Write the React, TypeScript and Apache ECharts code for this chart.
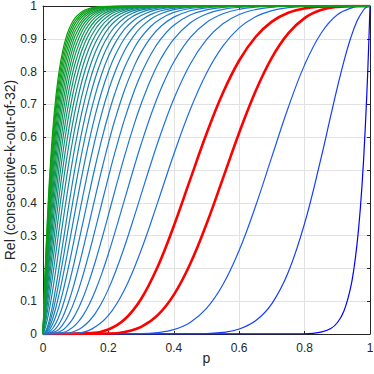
import React, { useEffect, useRef } from "react";
import * as echarts from "echarts";

// Reliability of consecutive-k-out-of-32:F systems.
// Common p grid used for k = 11..32
const pGrid = [0, 0.005, 0.01, 0.015, 0.02, 0.03, 0.04, 0.05, 0.06, 0.07, 0.08, 0.09, 0.1, 0.12, 0.14, 0.16, 0.18, 0.2, 0.22, 0.25, 0.28, 0.3, 0.33, 0.36, 0.4, 0.45, 0.5, 0.55, 0.6, 1];

const rel32 = [0, 0.1482, 0.275, 0.3835, 0.4761, 0.6227, 0.7292, 0.8063, 0.8619, 0.9019, 0.9306, 0.9511, 0.9657, 0.9833, 0.992, 0.9962, 0.9983, 0.9992, 0.9996, 0.9999, 1, 1, 1, 1, 1, 1, 1, 1, 1, 1];
const rel31 = [0, 0.1396, 0.2604, 0.3647, 0.4547, 0.5994, 0.7066, 0.7859, 0.8443, 0.8872, 0.9186, 0.9414, 0.958, 0.9787, 0.9894, 0.9948, 0.9975, 0.9988, 0.9995, 0.9998, 1, 1, 1, 1, 1, 1, 1, 1, 1, 1];
const rel30 = [0, 0.131, 0.2455, 0.3455, 0.4327, 0.5749, 0.6826, 0.7639, 0.825, 0.8708, 0.9049, 0.9303, 0.9491, 0.9732, 0.9861, 0.9929, 0.9965, 0.9983, 0.9992, 0.9997, 0.9999, 1, 1, 1, 1, 1, 1, 1, 1, 1];
const rel29 = [0, 0.1223, 0.2304, 0.3258, 0.41, 0.5494, 0.6572, 0.7402, 0.8039, 0.8525, 0.8895, 0.9176, 0.9388, 0.9666, 0.9821, 0.9906, 0.9951, 0.9975, 0.9988, 0.9996, 0.9999, 1, 1, 1, 1, 1, 1, 1, 1, 1];
const rel28 = [0, 0.1135, 0.2151, 0.3057, 0.3866, 0.5227, 0.6301, 0.7146, 0.7807, 0.8322, 0.8722, 0.903, 0.9267, 0.9587, 0.9771, 0.9876, 0.9934, 0.9965, 0.9982, 0.9994, 0.9998, 1, 1, 1, 1, 1, 1, 1, 1, 1];
const rel27 = [0, 0.1047, 0.1995, 0.2852, 0.3625, 0.4947, 0.6014, 0.6871, 0.7554, 0.8097, 0.8526, 0.8864, 0.9128, 0.9493, 0.971, 0.9837, 0.9911, 0.9952, 0.9974, 0.999, 0.9997, 0.9999, 1, 1, 1, 1, 1, 1, 1, 1];
const rel26 = [0, 0.0958, 0.1838, 0.2642, 0.3376, 0.4655, 0.571, 0.6574, 0.7278, 0.7848, 0.8307, 0.8674, 0.8966, 0.938, 0.9635, 0.9789, 0.9881, 0.9934, 0.9964, 0.9986, 0.9995, 0.9998, 1, 1, 1, 1, 1, 1, 1, 1];
const rel25 = [0, 0.0869, 0.1677, 0.2427, 0.312, 0.435, 0.5387, 0.6255, 0.6977, 0.7572, 0.806, 0.8457, 0.878, 0.9247, 0.9544, 0.9729, 0.9842, 0.9909, 0.9949, 0.9979, 0.9992, 0.9997, 0.9999, 1, 1, 1, 1, 1, 1, 1];
const rel24 = [0, 0.0779, 0.1515, 0.2207, 0.2857, 0.4031, 0.5045, 0.5912, 0.6648, 0.7266, 0.7783, 0.8211, 0.8564, 0.9088, 0.9432, 0.9653, 0.9792, 0.9877, 0.9929, 0.997, 0.9988, 0.9994, 0.9998, 1, 1, 1, 1, 1, 1, 1];
const rel23 = [0, 0.0688, 0.135, 0.1983, 0.2585, 0.3697, 0.4682, 0.5543, 0.6289, 0.6929, 0.7473, 0.7931, 0.8316, 0.89, 0.9296, 0.9558, 0.9727, 0.9835, 0.9902, 0.9957, 0.9982, 0.999, 0.9997, 0.9999, 1, 1, 1, 1, 1, 1];
const rel22 = [0, 0.0596, 0.1182, 0.1753, 0.2306, 0.3349, 0.4297, 0.5147, 0.5899, 0.6556, 0.7125, 0.7614, 0.803, 0.8679, 0.9131, 0.9439, 0.9644, 0.9779, 0.9865, 0.9938, 0.9972, 0.9984, 0.9994, 0.9997, 1, 1, 1, 1, 1, 1];
const rel21 = [0, 0.0504, 0.1012, 0.1518, 0.2018, 0.2985, 0.389, 0.4721, 0.5473, 0.6144, 0.6737, 0.7254, 0.7702, 0.8416, 0.893, 0.9291, 0.9538, 0.9705, 0.9815, 0.9911, 0.9959, 0.9976, 0.999, 0.9996, 0.9999, 1, 1, 1, 1, 1];
const rel20 = [0, 0.0411, 0.0839, 0.1278, 0.1721, 0.2604, 0.3459, 0.4264, 0.501, 0.569, 0.6302, 0.6846, 0.7325, 0.8107, 0.8687, 0.9107, 0.9403, 0.9608, 0.9747, 0.9873, 0.9939, 0.9963, 0.9984, 0.9993, 0.9998, 1, 1, 1, 1, 1];
const rel19 = [0, 0.0317, 0.0664, 0.1033, 0.1416, 0.2208, 0.3002, 0.3774, 0.4506, 0.5189, 0.5816, 0.6383, 0.6893, 0.7744, 0.8394, 0.8878, 0.923, 0.9481, 0.9656, 0.982, 0.991, 0.9944, 0.9974, 0.9988, 0.9996, 0.9999, 1, 1, 1, 1];
const rel18 = [0, 0.0223, 0.0487, 0.0782, 0.1102, 0.1793, 0.2519, 0.3247, 0.3959, 0.4637, 0.5274, 0.5861, 0.6398, 0.7316, 0.804, 0.8596, 0.9011, 0.9316, 0.9534, 0.9746, 0.9867, 0.9915, 0.9958, 0.998, 0.9993, 0.9998, 1, 1, 1, 1];
const rel17 = [0, 0.0128, 0.0306, 0.0525, 0.0779, 0.1361, 0.2007, 0.2683, 0.3364, 0.403, 0.4669, 0.527, 0.5831, 0.6813, 0.7613, 0.8245, 0.8732, 0.9099, 0.937, 0.9643, 0.9805, 0.9872, 0.9934, 0.9968, 0.9988, 0.9997, 0.9999, 1, 1, 1];
const rel16 = [0, 0.0032, 0.0123, 0.0263, 0.0446, 0.0909, 0.1466, 0.2078, 0.2717, 0.3361, 0.3995, 0.4604, 0.5182, 0.6223, 0.7099, 0.7813, 0.8379, 0.8818, 0.9152, 0.9499, 0.9714, 0.9807, 0.9897, 0.9947, 0.9979, 0.9994, 0.9999, 1, 1, 1];
const rel15 = [0, 0.0022, 0.0086, 0.0188, 0.0323, 0.0682, 0.1133, 0.1649, 0.2208, 0.279, 0.338, 0.3962, 0.453, 0.5587, 0.6513, 0.7298, 0.7941, 0.8457, 0.8862, 0.93, 0.9582, 0.971, 0.9837, 0.9912, 0.9963, 0.9989, 0.9997, 1, 1, 1];
const rel14 = [0, 0.0014, 0.0055, 0.0124, 0.0218, 0.0481, 0.0829, 0.1245, 0.1716, 0.2223, 0.2754, 0.3294, 0.3835, 0.488, 0.5837, 0.6682, 0.74, 0.7997, 0.8481, 0.9025, 0.9394, 0.9566, 0.9745, 0.9855, 0.9936, 0.9979, 0.9994, 0.9998, 1, 1];
const rel13 = [0, 0.0007, 0.0031, 0.0072, 0.0133, 0.031, 0.0562, 0.0879, 0.1255, 0.1677, 0.2135, 0.2617, 0.3113, 0.4112, 0.5072, 0.5957, 0.674, 0.7415, 0.7983, 0.8648, 0.9122, 0.9354, 0.9603, 0.9763, 0.9888, 0.996, 0.9987, 0.9996, 0.9999, 1];
const rel12 = [0, 0.0003, 0.0014, 0.0035, 0.0068, 0.0175, 0.0341, 0.0565, 0.0845, 0.1175, 0.1548, 0.1955, 0.2389, 0.3301, 0.4226, 0.5122, 0.5949, 0.6692, 0.7342, 0.8137, 0.8735, 0.904, 0.9382, 0.9614, 0.9804, 0.9923, 0.9973, 0.9992, 0.9998, 1];
const rel11 = [0, 0.0001, 0.0004, 0.0012, 0.0027, 0.0083, 0.018, 0.0321, 0.0511, 0.0747, 0.1028, 0.1346, 0.17, 0.2483, 0.3327, 0.419, 0.5026, 0.5813, 0.6531, 0.7455, 0.819, 0.8585, 0.9044, 0.9374, 0.966, 0.9854, 0.9944, 0.9981, 0.9994, 1];

// k = 1..10, each read on its own p points
const p10 = [0, 0.04, 0.06, 0.08, 0.1, 0.12, 0.14, 0.16, 0.18, 0.2, 0.22, 0.25, 0.28, 0.3, 0.33, 0.36, 0.4, 0.45, 0.5, 0.55, 0.6, 0.65, 1];
const rel10 = [0, 0.0085, 0.0277, 0.0614, 0.11, 0.1714, 0.2425, 0.3197, 0.3994, 0.4782, 0.5537, 0.6565, 0.7439, 0.7929, 0.8531, 0.8989, 0.9413, 0.9725, 0.9883, 0.9956, 0.9985, 0.9996, 1];
const p9 = [0, 0.05, 0.08, 0.1, 0.12, 0.14, 0.16, 0.18, 0.2, 0.22, 0.25, 0.28, 0.3, 0.33, 0.36, 0.4, 0.45, 0.5, 0.55, 0.6, 0.65, 0.7, 1];
const rel9 = [0, 0.0068, 0.0313, 0.0618, 0.1044, 0.1582, 0.221, 0.2903, 0.3632, 0.4371, 0.5446, 0.6429, 0.7013, 0.777, 0.8383, 0.8993, 0.9483, 0.9757, 0.9897, 0.9961, 0.9987, 0.9997, 1];
const p8 = [0, 0.06, 0.08, 0.1, 0.12, 0.14, 0.16, 0.18, 0.2, 0.22, 0.25, 0.28, 0.3, 0.33, 0.36, 0.4, 0.45, 0.5, 0.55, 0.6, 0.65, 0.7, 0.75, 1];
const rel8 = [0, 0.0043, 0.0127, 0.0285, 0.0532, 0.0877, 0.1319, 0.1848, 0.2447, 0.3097, 0.4118, 0.5136, 0.5784, 0.6677, 0.7454, 0.8291, 0.9034, 0.9498, 0.9762, 0.9899, 0.9963, 0.9988, 0.9997, 1];
const p7 = [0, 0.08, 0.1, 0.12, 0.14, 0.16, 0.18, 0.2, 0.22, 0.25, 0.28, 0.3, 0.33, 0.36, 0.4, 0.45, 0.5, 0.55, 0.6, 0.65, 0.7, 0.75, 0.8, 1];
const rel7 = [0, 0.0037, 0.0097, 0.0207, 0.0381, 0.063, 0.0959, 0.1368, 0.185, 0.2685, 0.3609, 0.4248, 0.5198, 0.6098, 0.7165, 0.8225, 0.8974, 0.9457, 0.974, 0.9889, 0.996, 0.9988, 0.9997, 1];
const p6 = [0, 0.1, 0.15, 0.2, 0.25, 0.3, 0.35, 0.4, 0.45, 0.5, 0.55, 0.6, 0.65, 0.7, 0.75, 0.8, 0.85, 1];
const rel6 = [0, 0.0021, 0.0156, 0.0565, 0.1367, 0.2555, 0.3991, 0.5479, 0.6837, 0.795, 0.8776, 0.9333, 0.9674, 0.9861, 0.995, 0.9986, 0.9997, 1];
const p5 = [0, 0.15, 0.2, 0.25, 0.3, 0.35, 0.4, 0.45, 0.5, 0.55, 0.6, 0.65, 0.7, 0.75, 0.8, 0.85, 0.9, 1];
const rel5 = [0, 0.0026, 0.0138, 0.045, 0.1069, 0.2036, 0.3294, 0.4706, 0.6104, 0.7345, 0.8338, 0.9056, 0.9524, 0.9794, 0.9928, 0.9982, 0.9997, 1];
const p4 = [0, 0.2, 0.25, 0.3, 0.35, 0.4, 0.45, 0.5, 0.55, 0.6, 0.65, 0.7, 0.75, 0.8, 0.85, 0.9, 0.95, 1];
const rel4 = [0, 0.0013, 0.0064, 0.0219, 0.0567, 0.1194, 0.2135, 0.3353, 0.4738, 0.6137, 0.7403, 0.8428, 0.9167, 0.9631, 0.9875, 0.9974, 0.9998, 1];
const p3 = [0, 0.3, 0.35, 0.4, 0.45, 0.5, 0.55, 0.6, 0.65, 0.7, 0.75, 0.8, 0.85, 0.9, 0.95, 0.97, 1];
const rel3 = [0, 0.0009, 0.004, 0.0132, 0.035, 0.0779, 0.1501, 0.2552, 0.3895, 0.5406, 0.6906, 0.8205, 0.9163, 0.9732, 0.9964, 0.9992, 1];
const p2 = [0, 0.45, 0.5, 0.55, 0.6, 0.65, 0.7, 0.75, 0.8, 0.85, 0.88, 0.9, 0.92, 0.94, 0.96, 0.98, 0.99, 1];
const rel2 = [0, 0.0003, 0.0013, 0.0049, 0.0152, 0.0402, 0.0928, 0.1882, 0.3371, 0.5348, 0.6655, 0.7511, 0.8305, 0.8994, 0.9533, 0.9879, 0.9969, 1];
const p1 = [0, 0.8, 0.85, 0.88, 0.9, 0.92, 0.94, 0.95, 0.96, 0.97, 0.98, 0.99, 0.995, 0.9975, 1];
const rel1 = [0, 0.0008, 0.0055, 0.0167, 0.0343, 0.0694, 0.1381, 0.1937, 0.2708, 0.3773, 0.5239, 0.725, 0.8518, 0.923, 1];

const highlightedK = [4, 5];
const xTicks = [0, 0.2, 0.4, 0.6, 0.8, 1];
const yTicks = [0, 0.1, 0.2, 0.3, 0.4, 0.5, 0.6, 0.7, 0.8, 0.9, 1];

const colorStops: [number, number[]][] = [
  [0, [0, 0, 255]],
  [0.033, [20, 60, 250]],
  [0.07, [30, 90, 245]],
  [0.2, [30, 115, 220]],
  [0.45, [25, 128, 185]],
  [0.7, [15, 145, 100]],
  [1, [10, 160, 10]],
];

function kColor(k: number): string {
  const t = (k - 1) / 31;
  for (let i = 1; i < colorStops.length; i++) {
    const [t1, c1] = colorStops[i];
    const [t0, c0] = colorStops[i - 1];
    if (t <= t1) {
      const f = (t - t0) / (t1 - t0);
      const c = c0.map((v, j) => Math.round(v + (c1[j] - v) * f));
      return `rgb(${c[0]},${c[1]},${c[2]})`;
    }
  }
  return "rgb(10,160,10)";
}

const FONT = "'Liberation Sans', Arial, Helvetica, sans-serif";
const AXIS_COLOR = "#262626";

export default function App() {
  const ref = useRef<HTMLDivElement>(null);

  useEffect(() => {
    if (!ref.current) return;
    const chart = echarts.init(ref.current, null, { renderer: "svg" });

    const curves = [
      { k: 1, p: p1, r: rel1 },
      { k: 2, p: p2, r: rel2 },
      { k: 3, p: p3, r: rel3 },
      { k: 4, p: p4, r: rel4 },
      { k: 5, p: p5, r: rel5 },
      { k: 6, p: p6, r: rel6 },
      { k: 7, p: p7, r: rel7 },
      { k: 8, p: p8, r: rel8 },
      { k: 9, p: p9, r: rel9 },
      { k: 10, p: p10, r: rel10 },
      { k: 11, p: pGrid, r: rel11 },
      { k: 12, p: pGrid, r: rel12 },
      { k: 13, p: pGrid, r: rel13 },
      { k: 14, p: pGrid, r: rel14 },
      { k: 15, p: pGrid, r: rel15 },
      { k: 16, p: pGrid, r: rel16 },
      { k: 17, p: pGrid, r: rel17 },
      { k: 18, p: pGrid, r: rel18 },
      { k: 19, p: pGrid, r: rel19 },
      { k: 20, p: pGrid, r: rel20 },
      { k: 21, p: pGrid, r: rel21 },
      { k: 22, p: pGrid, r: rel22 },
      { k: 23, p: pGrid, r: rel23 },
      { k: 24, p: pGrid, r: rel24 },
      { k: 25, p: pGrid, r: rel25 },
      { k: 26, p: pGrid, r: rel26 },
      { k: 27, p: pGrid, r: rel27 },
      { k: 28, p: pGrid, r: rel28 },
      { k: 29, p: pGrid, r: rel29 },
      { k: 30, p: pGrid, r: rel30 },
      { k: 31, p: pGrid, r: rel31 },
      { k: 32, p: pGrid, r: rel32 },
    ];

    const series = curves.map((c) => {
      const red = highlightedK.includes(c.k);
      const color = red ? "#ff0000" : kColor(c.k);
      return {
        type: "line",
        name: "k=" + c.k,
        data: c.p.map((x, i) => [x, c.r[i]]),
        symbol: "none",
        showSymbol: false,
        smooth: 0.4,
        silent: true,
        color,
        lineStyle: { color, width: red ? 2.6 : 1.2 },
        emphasis: { disabled: true },
      };
    });

    const tickStyle = { color: AXIS_COLOR, width: 1 };
    const baseX = {
      type: "value",
      min: xTicks[0],
      max: xTicks[xTicks.length - 1],
      interval: 0.2,
    };
    const baseY = {
      type: "value",
      min: yTicks[0],
      max: yTicks[yTicks.length - 1],
      interval: 0.1,
    };

    chart.setOption({
      animation: false,
      backgroundColor: "#ffffff",
      grid: { left: 43, right: 4, top: 6, bottom: 40, containLabel: false, outerBoundsMode: "none" },
      xAxis: [
        {
          ...baseX,
          position: "bottom",
          name: "p",
          nameLocation: "middle",
          nameGap: 17,
          nameMoveOverlap: false,
          nameTextStyle: { fontSize: 14, color: AXIS_COLOR, fontFamily: FONT },
          axisLine: { show: true, onZero: false, lineStyle: tickStyle },
          axisTick: { show: true, inside: true, length: 3, lineStyle: tickStyle },
          axisLabel: { show: true, fontSize: 12, color: AXIS_COLOR, fontFamily: FONT, margin: 8 },
          splitLine: { show: true, lineStyle: { color: "#e2e2e2", width: 1 } },
        },
        {
          ...baseX,
          position: "top",
          axisLine: { show: true, onZero: false, lineStyle: tickStyle },
          axisTick: { show: true, inside: true, length: 3, lineStyle: tickStyle },
          axisLabel: { show: false },
          splitLine: { show: false },
        },
      ],
      yAxis: [
        {
          ...baseY,
          position: "left",
          name: "Rel (consecutive-k-out-of-32)",
          nameLocation: "middle",
          nameGap: 26,
          nameMoveOverlap: false,
          nameTextStyle: { fontSize: 14, color: AXIS_COLOR, fontFamily: FONT },
          axisLine: { show: true, onZero: false, lineStyle: tickStyle },
          axisTick: { show: true, inside: true, length: 3, lineStyle: tickStyle },
          axisLabel: { show: true, fontSize: 12, color: AXIS_COLOR, fontFamily: FONT, margin: 6 },
          splitLine: { show: true, lineStyle: { color: "#e2e2e2", width: 1 } },
        },
        {
          ...baseY,
          position: "right",
          axisLine: { show: true, onZero: false, lineStyle: tickStyle },
          axisTick: { show: true, inside: true, length: 3, lineStyle: tickStyle },
          axisLabel: { show: false },
          splitLine: { show: false },
        },
      ],
      series,
    });

    return () => {
      chart.dispose();
    };
  }, []);

  return (
    <div
      ref={ref}
      style={{ position: "absolute", left: 0, top: 0, width: 374, height: 374, background: "#fff" }}
    />
  );
}
